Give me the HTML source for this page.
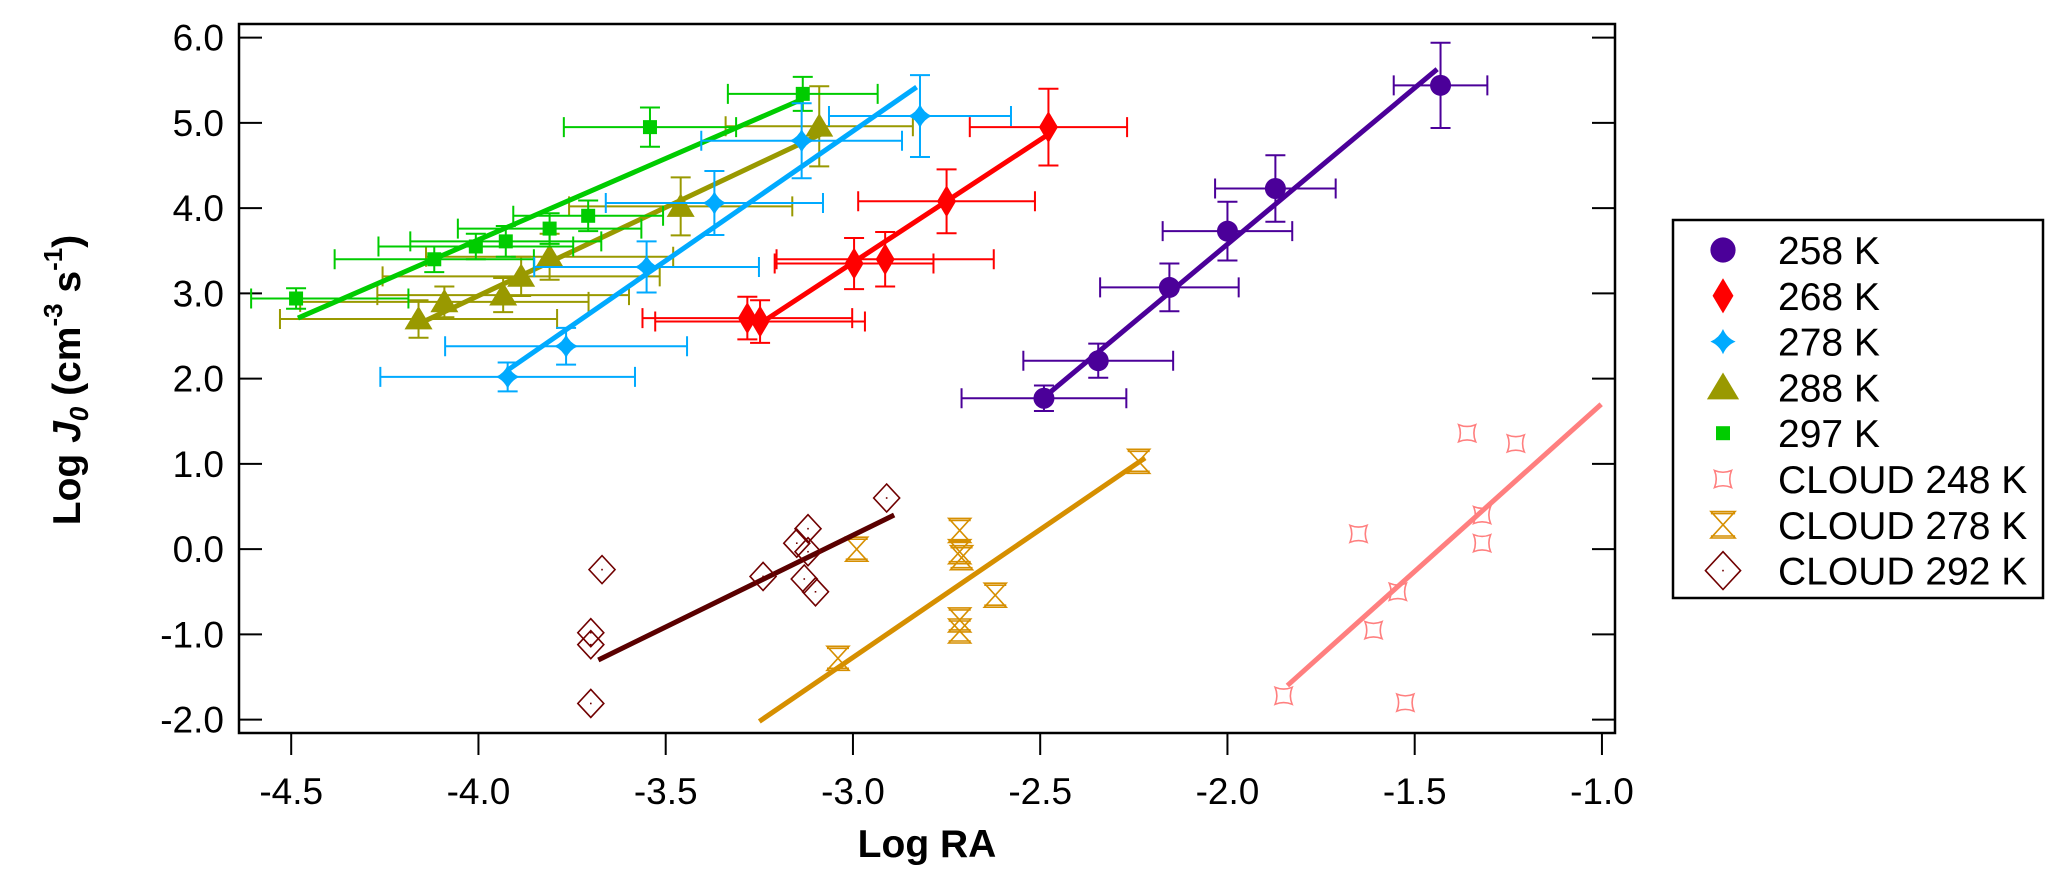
<!DOCTYPE html>
<html>
<head>
<meta charset="utf-8">
<style>
html,body{margin:0;padding:0;background:#fff;}
svg{display:block;font-family:"Liberation Sans",Arial,sans-serif;}
</style>
</head>
<body>
<svg id="chart" width="2067" height="890" viewBox="0 0 2067 890" xmlns="http://www.w3.org/2000/svg">
  <rect x="0" y="0" width="2067" height="890" fill="#fff"/>
  <g id="axes"></g>
  <g id="marks"></g>
  <g id="legend"></g>
  <text x="927" y="857" text-anchor="middle" font-size="39" font-weight="bold">Log RA</text>
  <text transform="translate(80,380) rotate(-90)" text-anchor="middle" font-size="39" font-weight="bold">Log <tspan font-style="italic">J</tspan><tspan font-style="italic" font-size="26" dy="8">0</tspan><tspan dy="-8"> (cm</tspan><tspan font-size="26" dy="-18">-3</tspan><tspan dy="18"> s</tspan><tspan font-size="26" dy="-18">-1</tspan><tspan dy="18">)</tspan></text>
</svg>
<script>
// ---- data ----
const xTicks = [-4.5, -4.0, -3.5, -3.0, -2.5, -2.0, -1.5, -1.0];
const xTickLabels = ["-4.5", "-4.0", "-3.5", "-3.0", "-2.5", "-2.0", "-1.5", "-1.0"];
const yTicks = [6, 5, 4, 3, 2, 1, 0, -1, -2];
const yTickLabels = ["6.0", "5.0", "4.0", "3.0", "2.0", "1.0", "0.0", "-1.0", "-2.0"];

const s258X = [-2.49, -2.345, -2.155, -2.0, -1.872, -1.431];
const s258Y = [1.77, 2.21, 3.07, 3.73, 4.23, 5.44];
const s258Xerr = [0.22, 0.2, 0.185, 0.173, 0.161, 0.125];
const s258Yerr = [0.15, 0.2, 0.28, 0.345, 0.39, 0.5];
const fit258X = [-2.49, -1.44];
const fit258Y = [1.78, 5.63];

const s268X = [-3.282, -3.248, -2.997, -2.914, -2.75, -2.478];
const s268Y = [2.71, 2.67, 3.35, 3.40, 4.08, 4.95];
const s268Xerr = [0.28, 0.28, 0.212, 0.29, 0.236, 0.21];
const s268Yerr = [0.25, 0.25, 0.3, 0.32, 0.375, 0.45];
const fit268X = [-3.25, -2.48];
const fit268Y = [2.64, 4.86];

const s278X = [-3.922, -3.766, -3.551, -3.37, -3.137, -2.821];
const s278Y = [2.02, 2.38, 3.31, 4.06, 4.79, 5.08];
const s278Xerr = [0.34, 0.323, 0.3, 0.29, 0.268, 0.243];
const s278Yerr = [0.17, 0.215, 0.3, 0.375, 0.44, 0.48];
const fit278X = [-3.922, -2.83];
const fit278Y = [2.10, 5.42];

const s288X = [-4.16, -4.091, -3.934, -3.886, -3.81, -3.46, -3.09];
const s288Y = [2.70, 2.90, 2.98, 3.20, 3.43, 4.02, 4.96];
const s288Xerr = [0.37, 0.385, 0.336, 0.37, 0.33, 0.298, 0.25];
const s288Yerr = [0.22, 0.18, 0.2, 0.23, 0.27, 0.34, 0.47];
const fit288X = [-4.17, -3.08];
const fit288Y = [2.62, 4.88];

const s297X = [-4.487, -4.118, -4.007, -3.927, -3.81, -3.707, -3.542, -3.134];
const s297Y = [2.94, 3.40, 3.55, 3.61, 3.76, 3.91, 4.95, 5.34];
const s297XerrLo = [0.12, 0.266, 0.26, 0.255, 0.245, 0.2, 0.23, 0.2];
const s297XerrHi = [0.30, 0.266, 0.26, 0.255, 0.245, 0.2, 0.23, 0.2];
const s297Yerr = [0.12, 0.15, 0.15, 0.18, 0.18, 0.18, 0.23, 0.2];
const fit297X = [-4.482, -3.134];
const fit297Y = [2.71, 5.28];

const c248X = [-1.85, -1.65, -1.61, -1.545, -1.525, -1.36, -1.32, -1.32, -1.23];
const c248Y = [-1.72, 0.18, -0.95, -0.50, -1.80, 1.36, 0.40, 0.07, 1.24];
const fitC248X = [-1.84, -1.002];
const fitC248Y = [-1.60, 1.70];

const c278X = [-3.04, -2.99, -2.715, -2.715, -2.71, -2.715, -2.715, -2.62, -2.237];
const c278Y = [-1.28, 0.0, 0.22, -0.03, -0.10, -0.83, -0.96, -0.54, 1.03];
const fitC278X = [-3.25, -2.22];
const fitC278Y = [-2.02, 1.07];

const c292X = [-3.67, -3.70, -3.70, -3.70, -3.24, -3.15, -3.12, -3.13, -3.10, -3.12, -2.91];
const c292Y = [-0.24, -0.98, -1.12, -1.81, -0.32, 0.07, 0.24, -0.35, -0.50, -0.03, 0.60];
const fitC292X = [-3.68, -2.89];
const fitC292Y = [-1.30, 0.40];

const legendLabels = ["258 K", "268 K", "278 K", "288 K", "297 K", "CLOUD 248 K", "CLOUD 278 K", "CLOUD 292 K"];

// ---- scales ----
const NS = "http://www.w3.org/2000/svg";
function X(v) { return 291.2 + (v + 4.5) * 374.5; }
function Y(v) { return 37.6 + (6 - v) * 85.26; }
function mk(tag, parent, attrs) {
  const e = document.createElementNS(NS, tag);
  for (const k in attrs) e.setAttribute(k, attrs[k]);
  parent.appendChild(e);
  return e;
}

const axes = document.getElementById('axes');
const marks = document.getElementById('marks');
const legend = document.getElementById('legend');

const frame = mk('rect', axes, {x: 239, y: 24, width: 1376, height: 709, fill: 'none', stroke: '#000', 'stroke-width': 2.5});



xTicks.forEach((v, i) => {
  const t = mk('line', axes, {x1: X(v), x2: X(v), y1: 733, y2: 755, stroke: '#000', 'stroke-width': 2});
  
  
  const l = mk('text', axes, {x: X(v), y: 804, 'text-anchor': 'middle', 'font-size': 37});
  l.textContent = xTickLabels[i];
  
  
});
yTicks.forEach((v, i) => {
  const t = mk('line', axes, {x1: 239, x2: 262, y1: Y(v), y2: Y(v), stroke: '#000', 'stroke-width': 2});
  
  
  const t2 = mk('line', axes, {x1: 1592, x2: 1615, y1: Y(v), y2: Y(v), stroke: '#000', 'stroke-width': 2});
  
  
  const l = mk('text', axes, {x: 224, y: Y(v) + 13, 'text-anchor': 'end', 'font-size': 37});
  l.textContent = yTickLabels[i];
  
  
});

function marker(type, g, cx, cy, color, scale) {
  const s = scale || 1;
  let e;
  if (type === 'circle') {
    e = mk('circle', g, {cx: cx, cy: cy, r: 10.5 * s, fill: color});
  } else if (type === 'diamond') {
    const w = 9.5 * s, h = 16 * s;
    e = mk('polygon', g, {points: `${cx},${cy-h} ${cx+w},${cy} ${cx},${cy+h} ${cx-w},${cy}`, fill: color});
  } else if (type === 'star4') {
    const r = 12 * s, q = 3.5 * s;
    e = mk('path', g, {d: `M${cx},${cy-r} Q${cx+q},${cy-q} ${cx+r},${cy} Q${cx+q},${cy+q} ${cx},${cy+r} Q${cx-q},${cy+q} ${cx-r},${cy} Q${cx-q},${cy-q} ${cx},${cy-r}Z`, fill: color});
  } else if (type === 'triangle') {
    const w = 14 * s, h = 13 * s;
    e = mk('polygon', g, {points: `${cx},${cy-h} ${cx+w},${cy+h*0.8} ${cx-w},${cy+h*0.8}`, fill: color});
  } else if (type === 'square') {
    const a = 7 * s;
    e = mk('rect', g, {x: cx - a, y: cy - a, width: 2 * a, height: 2 * a, fill: color});
  } else if (type === 'concave') {
    const a = 8.5 * s, q = 3.5 * s;
    e = mk('path', g, {d: `M${cx-a},${cy-a} Q${cx},${cy-a+q} ${cx+a},${cy-a} Q${cx+a-q},${cy} ${cx+a},${cy+a} Q${cx},${cy+a-q} ${cx-a},${cy+a} Q${cx-a+q},${cy} ${cx-a},${cy-a}Z`, fill: 'none', stroke: color, 'stroke-width': 1.6});
  } else if (type === 'hourglass') {
    const a = 11 * s, h = 12 * s;
    e = mk('path', g, {d: `M${cx-a},${cy-h} L${cx+a},${cy-h} L${cx-a},${cy+h} L${cx+a},${cy+h} Z M${cx-a},${cy-h+2} L${cx+a},${cy-h+2} M${cx-a},${cy+h-2} L${cx+a},${cy+h-2}`, fill: 'none', stroke: color, 'stroke-width': 1.6});
  } else if (type === 'diamondOpen') {
    const w = 13 * s, h = 14 * s;
    e = mk('polygon', g, {points: `${cx},${cy-h} ${cx+w},${cy} ${cx},${cy+h} ${cx-w},${cy}`, fill: 'none', stroke: color, 'stroke-width': 1.6});
    const d = mk('rect', g, {x: cx - 0.8, y: cy - 0.8, width: 1.6, height: 1.6, fill: color});
    
    
  }
  return e;
}

function drawErrSeries(name, xs, ys, xlo, xhi, ye, color, type, fx, fy) {
  const g = mk('g', marks, {});
  
  
  xs.forEach((xv, i) => {
    const cx = X(xv), cy = Y(ys[i]);
    const x1 = X(xv - xlo[i]), x2 = X(xv + xhi[i]);
    const y1 = Y(ys[i] + ye[i]), y2 = Y(ys[i] - ye[i]);
    const p = mk('path', g, {d: `M${x1},${cy}H${x2}M${x1},${cy-10}V${cy+10}M${x2},${cy-10}V${cy+10}M${cx},${y1}V${y2}M${cx-10},${y1}H${cx+10}M${cx-10},${y2}H${cx+10}`, stroke: color, 'stroke-width': 2, fill: 'none'});
    
    
  });
  const ln = mk('line', g, {x1: X(fx[0]), y1: Y(fy[0]), x2: X(fx[1]), y2: Y(fy[1]), stroke: color, 'stroke-width': 5});
  
  
  xs.forEach((xv, i) => {
    const m = marker(type, g, X(xv), Y(ys[i]), color);
    
    
  });
}
function drawCloud(name, xs, ys, color, lineColor, type, fx, fy) {
  const g = mk('g', marks, {});
  
  
  const ln = mk('line', g, {x1: X(fx[0]), y1: Y(fy[0]), x2: X(fx[1]), y2: Y(fy[1]), stroke: lineColor, 'stroke-width': 5});
  
  
  xs.forEach((xv, i) => {
    const m = marker(type, g, X(xv), Y(ys[i]), color);
    
    
  });
}

const C = {p258: '#4b0099', p268: '#ff0000', p278: '#00aaff', p288: '#999900', p297: '#00cc00', c248: '#ff7f7f', c278: '#d68f00', c292: '#700000'};

drawCloud('cloud-248k', c248X, c248Y, C.c248, C.c248, 'concave', fitC248X, fitC248Y);
drawCloud('cloud-278k', c278X, c278Y, C.c278, C.c278, 'hourglass', fitC278X, fitC278Y);
drawCloud('cloud-292k', c292X, c292Y, C.c292, '#5a0000', 'diamondOpen', fitC292X, fitC292Y);
drawErrSeries('258k', s258X, s258Y, s258Xerr, s258Xerr, s258Yerr, C.p258, 'circle', fit258X, fit258Y);
drawErrSeries('268k', s268X, s268Y, s268Xerr, s268Xerr, s268Yerr, C.p268, 'diamond', fit268X, fit268Y);
drawErrSeries('288k', s288X, s288Y, s288Xerr, s288Xerr, s288Yerr, C.p288, 'triangle', fit288X, fit288Y);
drawErrSeries('297k', s297X, s297Y, s297XerrLo, s297XerrHi, s297Yerr, C.p297, 'square', fit297X, fit297Y);
drawErrSeries('278k', s278X, s278Y, s278Xerr, s278Xerr, s278Yerr, C.p278, 'star4', fit278X, fit278Y);

const lbox = mk('rect', legend, {x: 1673, y: 220, width: 370, height: 378, fill: '#fff', stroke: '#000', 'stroke-width': 2.5});


const legTypes = ['circle', 'diamond', 'star4', 'triangle', 'square', 'concave', 'hourglass', 'diamondOpen'];
const legColors = [C.p258, C.p268, C.p278, C.p288, C.p297, C.c248, C.c278, C.c292];
const legScale = [1.2, 1.1, 1.05, 1.15, 1.0, 1.0, 1.1, 1.35];
legendLabels.forEach((lab, i) => {
  const cy = 250 + i * 45.8;
  const m = marker(legTypes[i], legend, 1723, cy, legColors[i], legScale[i]);
  
  
  const t = mk('text', legend, {x: 1778, y: cy + 14, 'font-size': 39});
  t.textContent = lab;
  
  
});
</script>
</body>
</html>
